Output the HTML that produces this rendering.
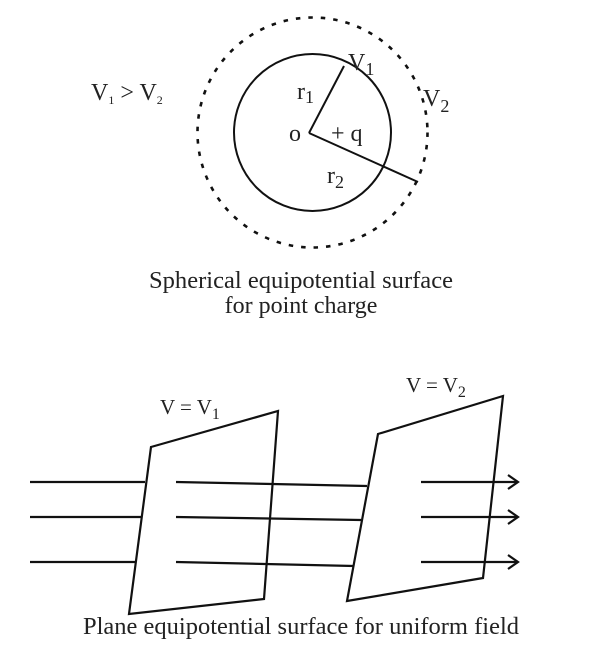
<!DOCTYPE html>
<html><head><style>html,body{margin:0;padding:0;background:#fff}svg{display:block}</style></head>
<body>
<svg width="601" height="647" viewBox="0 0 601 647" xmlns="http://www.w3.org/2000/svg" font-family="Liberation Serif, serif" fill="#222">
<circle cx="312.5" cy="132.5" r="115" fill="none" stroke="#111" stroke-width="2.6" stroke-dasharray="4.5 8"/>
<circle cx="312.5" cy="132.5" r="78.5" fill="none" stroke="#111" stroke-width="2"/>
<line x1="309" y1="133" x2="344" y2="66" stroke="#111" stroke-width="2"/>
<line x1="309" y1="133" x2="418" y2="182" stroke="#111" stroke-width="2"/>
<g font-size="24">
<text x="289" y="141">o</text>
<text x="331" y="141">+ q</text>
<text x="297" y="99">r<tspan font-size="18" dy="4">1</tspan></text>
<text x="327" y="183">r<tspan font-size="18" dy="5">2</tspan></text>
<text x="348" y="70">V<tspan font-size="18" dy="5">1</tspan></text>
<text x="423" y="106">V<tspan font-size="18" dy="6">2</tspan></text>
<text x="91" y="100">V<tspan font-size="12" dy="4">1</tspan><tspan dy="-4"> &gt; V</tspan><tspan font-size="12" dy="4">2</tspan></text>
<text x="301" y="288" text-anchor="middle" font-size="24" textLength="304" lengthAdjust="spacingAndGlyphs">Spherical equipotential surface</text>
<text x="301" y="313" text-anchor="middle">for point charge</text>
<text x="301" y="634" text-anchor="middle" textLength="436" lengthAdjust="spacingAndGlyphs">Plane equipotential surface for uniform field</text>
</g>
<g font-size="21">
<text x="160" y="414">V = V<tspan font-size="16" dy="5">1</tspan></text>
<text x="406" y="392">V = V<tspan font-size="16" dy="5">2</tspan></text>
</g>
<g fill="none" stroke="#111" stroke-width="2.2">
<polygon points="151,447 278,411 264,599 129,614"/>
<polygon points="378,434 503,396 483,578 347,601"/>
<line x1="30" y1="482" x2="145" y2="482"/>
<line x1="30" y1="517" x2="141" y2="517"/>
<line x1="30" y1="562" x2="135" y2="562"/>
<line x1="176" y1="482" x2="367" y2="486"/>
<line x1="176" y1="517" x2="361" y2="520"/>
<line x1="176" y1="562" x2="354" y2="566"/>
<line x1="421" y1="482" x2="518" y2="482"/>
<line x1="421" y1="517" x2="518" y2="517"/>
<line x1="421" y1="562" x2="518" y2="562"/>
<polyline points="508,475 518,482 508,489"/>
<polyline points="508,510 518,517 508,524"/>
<polyline points="508,555 518,562 508,569"/>
</g>
</svg>
</body></html>
